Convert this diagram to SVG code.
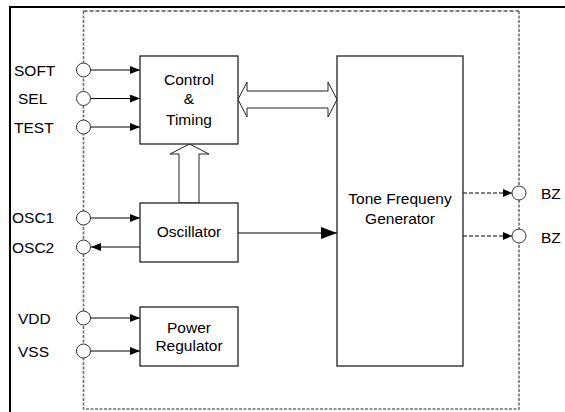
<svg xmlns="http://www.w3.org/2000/svg" width="565" height="412" viewBox="0 0 565 412">
<style>
text{font-family:"Liberation Sans",Arial,sans-serif;font-size:15.5px;fill:#000}
.box{fill:#fff;stroke:#222;stroke-width:1.3}
.pin{fill:#fff;stroke:#333;stroke-width:1}
.ln{stroke:#000;stroke-width:1;fill:none}
.dl{stroke:#000;stroke-width:1;fill:none;stroke-dasharray:4 2}
.hollow{fill:#fff;stroke:#222;stroke-width:1}
</style>
<defs>
<marker id="ah" markerWidth="10" markerHeight="8" refX="10" refY="4" orient="auto" markerUnits="userSpaceOnUse"><path d="M0,0 L10,4 L0,8 Z" fill="#000"/></marker>
<marker id="ahb" markerWidth="16" markerHeight="12" refX="16" refY="6" orient="auto" markerUnits="userSpaceOnUse"><path d="M0,0 L16,6 L0,12 Z" fill="#000"/></marker>
<marker id="ahs" markerWidth="9" markerHeight="8" refX="9" refY="4" orient="auto" markerUnits="userSpaceOnUse"><path d="M0,0 L9,4 L0,8 Z" fill="#000"/></marker>
</defs>
<rect x="0" y="0" width="565" height="412" fill="#fff"/>
<g id="frame">
<path d="M10,413 L10,7 L566,7" fill="none" stroke="#000" stroke-width="2"/>
<path d="M83.5,11 L519,11" fill="none" stroke="#000" stroke-width="1" stroke-dasharray="4 2"/>
<path d="M83.5,11 L83.5,409 L519,409 L519,11" fill="none" stroke="#707070" stroke-width="1.6" stroke-dasharray="3 1.5"/>
</g>
<g id="connectors">
<line class="ln" x1="91" y1="70" x2="140" y2="70" marker-end="url(#ah)"/>
<line class="ln" x1="91" y1="98.5" x2="140" y2="98.5" marker-end="url(#ah)"/>
<line class="ln" x1="91" y1="127" x2="140" y2="127" marker-end="url(#ah)"/>
<line class="ln" x1="91" y1="218" x2="140" y2="218" marker-end="url(#ah)"/>
<line class="ln" x1="140" y1="247" x2="91" y2="247" marker-end="url(#ah)"/>
<line class="ln" x1="91" y1="318" x2="140" y2="318" marker-end="url(#ah)"/>
<line class="ln" x1="91" y1="351" x2="140" y2="351" marker-end="url(#ah)"/>
<line class="ln" x1="238" y1="233" x2="337" y2="233" marker-end="url(#ahb)"/>
<line class="dl" x1="463" y1="193" x2="512" y2="193" marker-end="url(#ahs)"/>
<line class="dl" x1="463" y1="236" x2="512" y2="236" marker-end="url(#ahs)"/>
<polygon class="hollow" points="238,99.5 247,82 247,91 328,91 328,82 337,99.5 328,117 328,108 247,108 247,117"/>
<polygon class="hollow" points="189.5,144 209,154 199,154 199,203 179,203 179,154 170,154"/>
</g>
<g id="pins">
<circle class="pin" cx="83.5" cy="70" r="7"/>
<circle class="pin" cx="83.5" cy="98.5" r="7"/>
<circle class="pin" cx="83.5" cy="127" r="7"/>
<circle class="pin" cx="83.5" cy="218" r="7"/>
<circle class="pin" cx="83.5" cy="247" r="7"/>
<circle class="pin" cx="83.5" cy="318" r="7"/>
<circle class="pin" cx="83.5" cy="351" r="7"/>
<circle class="pin" cx="519" cy="193" r="7"/>
<circle class="pin" cx="519" cy="236" r="7"/>
<text x="14" y="76">SOFT</text>
<text x="18" y="104">SEL</text>
<text x="14" y="133">TEST</text>
<text x="12" y="223">OSC1</text>
<text x="12" y="253">OSC2</text>
<text x="18" y="324">VDD</text>
<text x="18" y="357">VSS</text>
<text x="541" y="199">BZ</text>
<text x="541" y="243">BZ</text>
</g>
<g id="control">
<rect class="box" x="140" y="56" width="98" height="88"/>
<text x="189" y="85" text-anchor="middle">Control</text>
<text x="189" y="104" text-anchor="middle">&amp;</text>
<text x="189" y="125" text-anchor="middle">Timing</text>
</g>
<g id="oscillator">
<rect class="box" x="140" y="203" width="98" height="59"/>
<text x="189" y="237" text-anchor="middle">Oscillator</text>
</g>
<g id="power">
<rect class="box" x="140" y="307" width="98" height="59"/>
<text x="189" y="333" text-anchor="middle">Power</text>
<text x="189" y="351" text-anchor="middle">Regulator</text>
</g>
<g id="tone">
<rect class="box" x="337" y="56" width="126" height="310"/>
<text x="400" y="204" text-anchor="middle">Tone Frequeny</text>
<text x="400" y="224" text-anchor="middle">Generator</text>
</g>
</svg>
